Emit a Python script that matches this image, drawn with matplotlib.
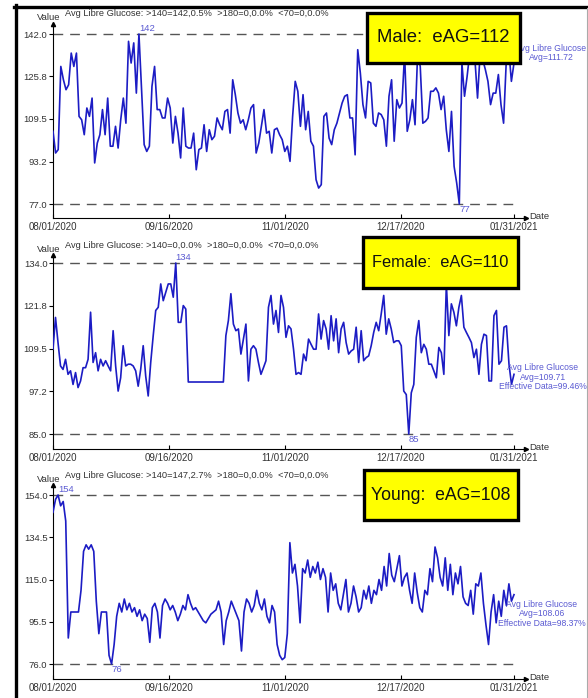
import numpy as np
import pandas as pd
import matplotlib
matplotlib.use('Agg')
import matplotlib.pyplot as plt
import matplotlib.dates as mdates
from matplotlib.patches import Rectangle
from matplotlib.lines import Line2D

plt.rcParams['font.family'] = ['Liberation Sans', 'DejaVu Sans']

W, H = 588, 698

# ---- data ----
groups = ['Male', 'Female', 'Young']
eag = [112, 110, 108]
over140 = ['142,0.5%', '0,0.0%', '147,2.7%']
over180 = ['0,0.0%', '0,0.0%', '0,0.0%']
under70 = ['0,0.0%', '0,0.0%', '0,0.0%']
avg_text = ['111.72', '109.71', '108.06']
effective = [None, '99.46%', '98.37%']
tick_dates = ['2020-08-01', '2020-09-16', '2020-11-01', '2020-12-17', '2021-01-31']
start_date = '2020-08-01'
end_date = '2021-01-31'

male = [104.8, 96.5, 97.8, 129.6, 124.5, 120.7, 122.6, 134.7, 129.6, 134.7, 110.5, 109.2,
        103.5, 113.7, 110.5, 117.5, 92.7, 100.3, 103.5, 113.1, 103.5, 117.5, 99.1, 99.1,
        106.7, 98.4, 109.2, 117.5, 107.9, 139.2, 130.9, 138.6, 119.4, 142.0, 120.7, 99.7,
        97.1, 99.1, 122.0, 129.6, 113.1, 113.1, 109.9, 109.9, 117.5, 113.7, 100.3, 110.5,
        104.1, 94.6, 113.7, 99.1, 98.4, 98.4, 104.1, 90.1, 97.8, 98.4, 107.3, 97.1, 105.4,
        101.6, 102.9, 109.9, 107.3, 105.4, 112.4, 113.1, 104.1, 124.5, 118.8, 111.8, 107.9,
        109.2, 105.4, 109.2, 113.7, 115.0, 96.5, 100.3, 106.7, 113.1, 104.1, 104.8, 96.5,
        105.4, 106.0, 103.5, 101.6, 97.1, 99.1, 93.3, 110.5, 123.9, 120.1, 106.7, 118.8,
        105.4, 112.4, 101.0, 99.1, 86.3, 83.1, 84.4, 110.5, 111.8, 102.2, 99.7, 105.4, 107.9,
        111.8, 115.6, 118.2, 118.8, 109.9, 109.9, 95.8, 136.0, 127.1, 115.0, 109.9, 123.9,
        123.3, 107.9, 106.7, 111.8, 111.2, 109.2, 99.1, 118.2, 124.5, 101.0, 116.9, 113.7,
        115.6, 134.7, 104.8, 109.2, 116.9, 107.3, 134.7, 129.6, 107.9, 108.6, 109.9, 120.1,
        120.1, 121.4, 119.4, 113.1, 118.2, 105.4, 97.1, 112.4, 91.4, 85.0, 77.0, 130.9, 118.2,
        125.8, 134.7, 137.3, 132.2, 117.5, 134.7, 132.2, 128.4, 123.9, 115.0, 119.4, 119.4,
        126.5, 115.0, 107.9, 130.9, 136.0, 123.9, 130.9]

female = [109.3, 118.4, 111.2, 104.5, 103.5, 106.4, 102.1, 103.1, 99.2, 102.6, 98.3, 100.2,
          104.0, 104.0, 106.4, 119.9, 105.5, 108.3, 103.1, 106.4, 104.5, 106.0, 104.5, 103.1,
          114.6, 104.5, 97.3, 101.1, 110.3, 104.5, 105.0, 105.0, 104.5, 103.1, 98.7, 103.5,
          110.3, 101.6, 95.9, 105.5, 113.2, 120.4, 121.3, 128.0, 123.2, 125.6, 128.0, 128.0,
          124.2, 134.0, 117.0, 117.0, 121.8, 120.8, 99.9, 99.9, 99.9, 99.9, 99.9, 99.9, 99.9,
          99.9, 99.9, 99.9, 99.9, 99.9, 99.9, 99.9, 99.9, 113.2, 117.5, 125.2, 116.5, 114.6,
          115.1, 107.9, 112.2, 116.5, 100.2, 109.3, 110.3, 109.3, 105.5, 102.1, 104.0, 106.0,
          121.3, 124.7, 116.5, 120.4, 114.1, 124.7, 121.3, 112.7, 116.0, 115.1, 109.3, 102.1,
          102.6, 102.1, 107.9, 106.0, 112.2, 110.7, 109.3, 109.3, 119.4, 112.2, 117.5, 115.1,
          109.3, 118.9, 111.7, 118.0, 108.3, 115.1, 117.0, 111.2, 107.9, 108.8, 109.3, 115.6,
          105.5, 114.6, 106.0, 106.9, 107.4, 110.3, 114.1, 117.0, 114.6, 119.4, 124.7, 113.6,
          118.0, 115.1, 111.2, 111.7, 111.7, 110.3, 97.3, 96.3, 85.0, 96.8, 99.2, 112.7, 117.5,
          108.3, 110.7, 109.3, 105.0, 105.0, 103.1, 101.1, 109.8, 108.3, 102.1, 128.0, 113.2,
          122.3, 119.9, 116.0, 121.3, 124.7, 115.6, 114.1, 112.7, 111.2, 106.9, 109.3, 102.1,
          110.7, 113.6, 113.2, 100.2, 100.2, 118.9, 120.4, 105.0, 106.0, 115.6, 116.0, 105.0,
          99.2, 102.1]

young = [146, 152, 154, 149, 151, 142, 88, 100, 100, 100, 100, 110, 128, 131, 129, 131,
         128, 105, 90, 100, 100, 100, 80, 76, 85, 98, 104, 100, 106, 101, 104, 100, 102,
         98, 101, 96, 99, 97, 86, 102, 104, 100, 88, 103, 106, 104, 101, 103, 100, 96, 99, 103,
         101, 108, 104, 101, 102, 100, 98, 96, 95, 97, 99, 100, 101, 105, 100, 85, 96, 100, 105,
         102, 99, 96, 82, 100, 106, 104, 100, 103, 110, 104, 101, 106, 98, 95, 103, 100, 85, 80,
         78, 79, 90, 132, 118, 122, 112, 95, 120, 118, 124, 116, 121, 118, 123, 115, 120, 116,
         100, 118, 110, 113, 104, 101, 108, 115, 100, 104, 112, 107, 100, 102, 110, 106, 112,
         104, 110, 108, 115, 110, 121, 112, 127, 117, 114, 120, 126, 112, 116, 118, 110, 104,
         118, 109, 102, 100, 110, 108, 120, 114, 130, 125, 116, 112, 125, 110, 122, 108, 118,
         113, 121, 107, 104, 103, 110, 99, 113, 112, 118, 104, 94, 85, 100, 108, 95, 105, 98,
         110, 103, 113, 105, 108]

series = [male, female, young]

# ---- layout (pixels) ----
axis_y = [218, 449, 679]          # x-axis line
max_px = [34, 263, 495]           # dashed max line
min_px = [204, 434, 664]          # dashed min line
ax_h = 194
ax_left, ax_right = 53, 526
boxes = [(367, 13, 153, 50), (363, 237, 155, 51), (364, 470, 154, 50)]
box_font = [13.3, 11.8, 12.7]
avg_pos = [(551, 53), (543, 377), (542, 614)]

LINE = '#1c1cc4'
LABEL = '#5a5ad2'
GREY = '#333333'


def fx(x):
    return x / W


def fy(y):
    return 1 - y / H


fig = plt.figure(figsize=(W / 100, H / 100), dpi=100)

t0 = pd.Timestamp(start_date)
px_per_day = (514 - ax_left) / (pd.Timestamp(end_date) - t0).days
x_end = t0 + pd.Timedelta(days=(ax_right - ax_left) / px_per_day)
dash_end = t0 + pd.Timedelta(days=(517 - ax_left) / px_per_day)

for i, vals in enumerate(series):
    vals = np.array(vals, dtype=float)
    dates = pd.date_range(start_date, end_date, periods=len(vals))
    vmax, vmin = vals.max(), vals.min()
    top = axis_y[i] - ax_h
    upp = (vmax - vmin) / (min_px[i] - max_px[i])
    ylo = vmin - (axis_y[i] - min_px[i]) * upp
    yhi = vmax + (max_px[i] - top) * upp

    ax = fig.add_axes([fx(ax_left), fy(axis_y[i]), fx(ax_right - ax_left), ax_h / H])
    ax.plot(dates, vals, color=LINE, lw=1.2, zorder=3)
    ax.set_xlim(t0, x_end)
    ax.set_ylim(ylo, yhi)

    for v in (vmax, vmin):
        ax.hlines(v, t0, dash_end, colors='#555555', lw=1.0, linestyles=(0, (7, 5)), zorder=2)

    imax, imin = int(vals.argmax()), int(vals.argmin())
    ax.annotate('%d' % round(vmax), (dates[imax], vmax), xytext=(0, 1), textcoords='offset points',
                ha='left', va='bottom', fontsize=6.8, color=LABEL)
    ax.annotate('%d' % round(vmin), (dates[imin], vmin), xytext=(0, -1), textcoords='offset points',
                ha='left', va='top', fontsize=6.8, color=LABEL)

    for s in ('top', 'right'):
        ax.spines[s].set_visible(False)
    for s in ('left', 'bottom'):
        ax.spines[s].set_linewidth(0.8)
    ax.plot(1, 0, '>', color='k', ms=3, transform=ax.transAxes, clip_on=False)
    ax.plot(0, 1, '^', color='k', ms=3, transform=ax.transAxes, clip_on=False)

    ax.set_xticks(pd.to_datetime(tick_dates))
    ax.xaxis.set_major_formatter(mdates.DateFormatter('%m/%d/%Y'))
    ax.set_yticks(np.linspace(vmin, vmax, 5))
    ax.yaxis.set_major_formatter(matplotlib.ticker.FormatStrFormatter('%.1f'))
    ax.tick_params(axis='x', direction='in', length=3, width=0.8, pad=3,
                   labelsize=7, labelcolor=GREY)
    ax.tick_params(axis='y', direction='out', length=3, width=0.8, pad=1,
                   labelsize=6.8, labelcolor=GREY)

    # axis names
    fig.text(fx(49), fy(top - 6), 'Value', ha='center', va='center', fontsize=6.8, color=GREY)
    fig.text(fx(529), fy(axis_y[i] - 1), 'Date', ha='left', va='center', fontsize=6.8, color=GREY)

    # header
    header = 'Avg Libre Glucose: >140=%s  >180=%s  <70=%s' % (over140[i], over180[i], under70[i])
    fig.text(fx(65), fy(top - 10), header, ha='left', va='center', fontsize=6.65, color=GREY)

    # yellow box
    bx, by, bw, bh = boxes[i]
    fig.add_artist(Rectangle((fx(bx), fy(by + bh)), bw / W, bh / H, transform=fig.transFigure,
                             facecolor='#ffff00', edgecolor='black', lw=2.4, zorder=5))
    fig.text(fx(bx + bw / 2), fy(by + bh / 2), '%s:  eAG=%d' % (groups[i], eag[i]),
             ha='center', va='center', fontsize=box_font[i], color='#111111', zorder=6)

    # average note
    note = 'Avg Libre Glucose\nAvg=%s' % avg_text[i]
    if effective[i]:
        note += '\nEffective Data=%s' % effective[i]
    fig.text(fx(avg_pos[i][0]), fy(avg_pos[i][1]), note, ha='center', va='center',
             fontsize=6.2, color=LABEL, linespacing=1.1)

# frame of the screenshot
fig.add_artist(Line2D([fx(14), 1], [fy(6.5), fy(6.5)], color='black', lw=2.4))
fig.add_artist(Line2D([fx(15.5), fx(15.5)], [0, fy(5)], color='black', lw=2.4))
fig.add_artist(Line2D([fx(586.5), fx(586.5)], [0, fy(8)], color='#aaaaaa', lw=0.8))

fig.savefig('out.png', dpi=100)
